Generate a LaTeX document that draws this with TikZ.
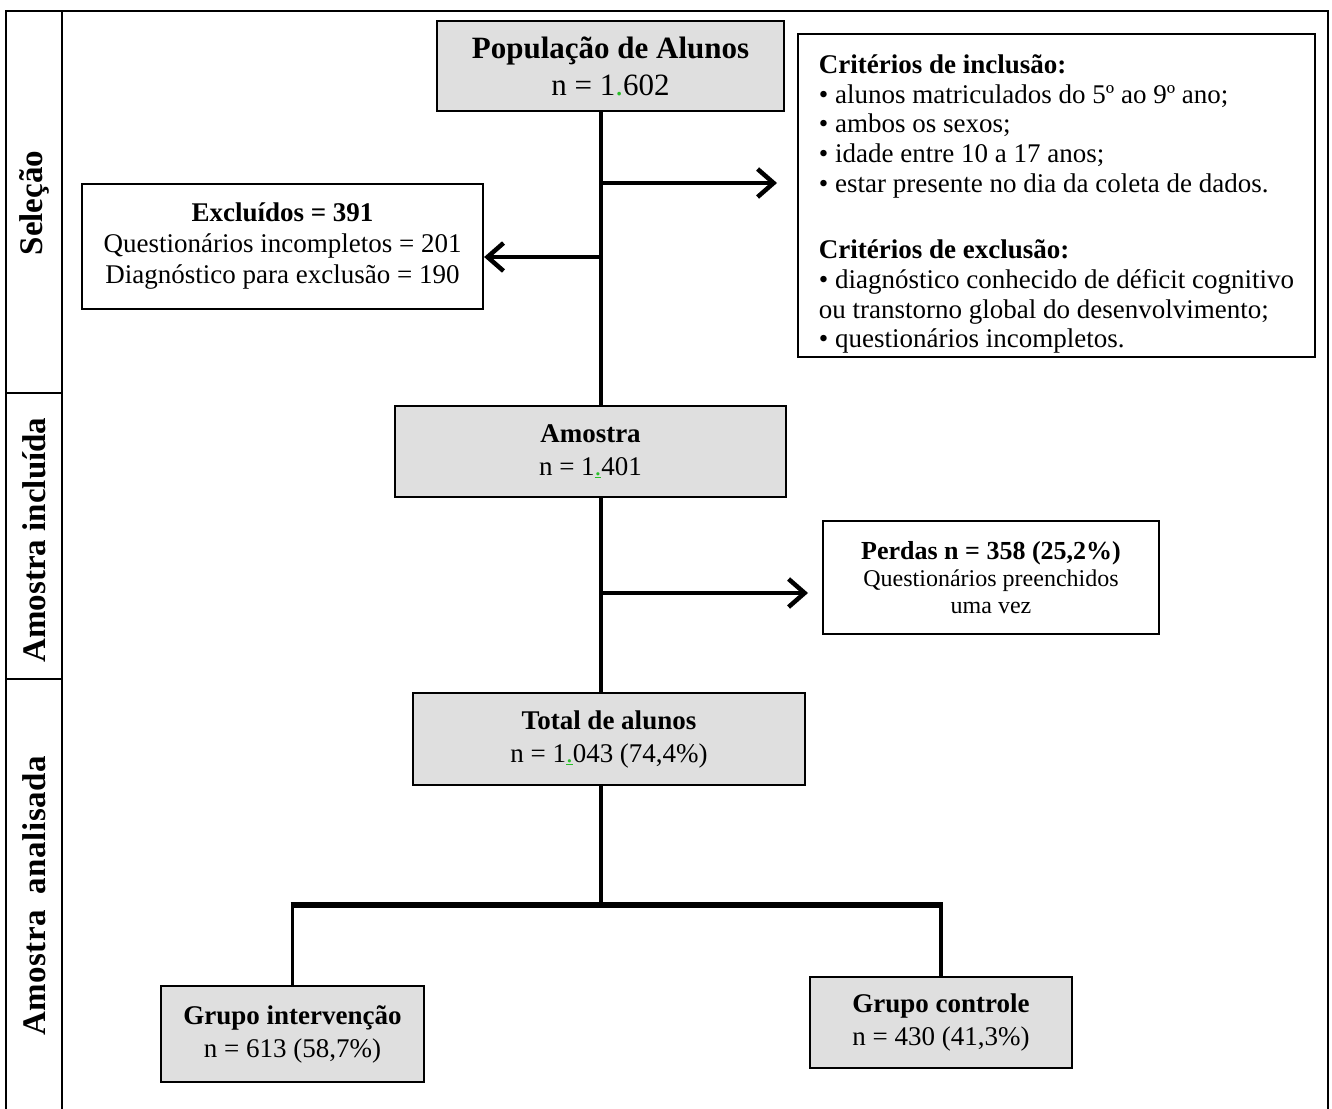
\documentclass[tikz,border=0pt]{standalone}
\usepackage{fontspec}
\setmainfont{Liberation Serif}
\usetikzlibrary{arrows.meta,calc}
\definecolor{boxgray}{RGB}{223,223,223}
\definecolor{wordgreen}{RGB}{40,190,40}
\newcommand\gdot{\textcolor{wordgreen}{.}}
\newcommand\gudot{\textcolor{wordgreen}{\underline{.}}}
\begin{document}
\begin{tikzpicture}[x=1pt,y=-1pt,
  frame/.style={line width=2.8pt},
  graybox/.style={draw, line width=2.2pt, fill=boxgray, align=center, inner sep=0pt, font=\fontsize{27}{33}\selectfont},
  whitebox/.style={draw, line width=2.2pt, fill=white, inner sep=0pt},
  trunk/.style={line width=4.5pt},
  arr/.style={line width=4.5pt,-{Straight Barb[length=16pt,width=28pt]}},
  sidelabel/.style={rotate=90, font=\fontsize{33}{36}\selectfont\bfseries}
]
\useasboundingbox (0,0) rectangle (1332,1108);

% frame
\draw[frame] (6,1112) -- (6,11) -- (1328,11) -- (1328,1112);
\draw[frame] (62,11) -- (62,1112);
\draw[frame] (6,393) -- (62,393);
\draw[frame] (6,679) -- (62,679);

% side labels
\node[sidelabel] (lsel) at (34,203) {Seleção};
\node[sidelabel] (linc) at (34,540) {Amostra incluída};
\node[sidelabel] (lana) at (34,896) {A\kern.5pt m\kern.5pt o\kern.5pt s\kern.5pt t\kern.5pt r\kern.5pt a\hspace{16pt}a\kern.5pt n\kern.5pt a\kern.5pt l\kern.5pt i\kern.5pt s\kern.5pt a\kern.5pt d\kern.5pt a};

% boxes
\node[graybox, minimum width=347pt, minimum height=90pt, font=\fontsize{31}{37}\selectfont] (pop) at (610.5,66)
  {\textbf{População de Alunos}\\n = 1\gdot602};

\node[whitebox, minimum width=517pt, minimum height=323pt, align=left,
  font=\fontsize{27}{29.7}\selectfont] (crit) at (1056.5,195.5)
  {\rule{0pt}{36pt}\textbf{Critérios de inclusão:}\\
   • alunos matriculados do 5º ao 9º ano;\\
   • ambos os sexos;\\
   • idade entre 10 a 17 anos;\\
   • estar presente no dia da coleta de dados.\\[37pt]
   \textbf{Critérios de exclusão:}\\
   • diagnóstico conhecido de déficit cognitivo\\
   ou transtorno global do desenvolvimento;\\
   • questionários incompletos.};

\node[whitebox, minimum width=401pt, minimum height=125pt, align=center,
  font=\fontsize{27}{31}\selectfont] (excl) at (282.5,246.5)
  {\textbf{Excluídos = 391}\\Questionários incompletos = 201\\Diagnóstico para exclusão = 190};

\node[graybox, minimum width=391pt, minimum height=91pt] (amo) at (590.5,451.5)
  {\textbf{Amostra}\\n = 1\gudot401};

\node[whitebox, minimum width=336pt, minimum height=113pt, align=center,
  font=\fontsize{24}{27}\selectfont] (perdas) at (991,577.5)
  {{\fontsize{26}{27}\selectfont\textbf{Perdas n = 358 (25,2\%)}}\\Questionários preenchidos\\uma vez};

\node[graybox, minimum width=392pt, minimum height=92pt] (total) at (609,739)
  {\textbf{Total de alunos}\\n = 1\gudot043 (74,4\%)};

\node[graybox, minimum width=263pt, minimum height=96pt] (gint) at (292.5,1034)
  {\textbf{Grupo intervenção}\\n = 613 (58,7\%)};

\node[graybox, minimum width=262pt, minimum height=91pt] (gctl) at (941,1022.5)
  {\textbf{Grupo controle}\\n = 430 (41,3\%)};

% connectors
\coordinate (tx) at (601,0);
\draw[trunk] (pop.south -| tx) -- (amo.north -| tx);
\coordinate (a1) at (777,183);
\draw[arr] (a1 -| tx) -- (a1);
\coordinate (b1) at (601,257);
\draw[arr] (b1) -- (b1 -| excl.east);
\draw[trunk] (amo.south -| tx) -- (total.north -| tx);
\coordinate (c1) at (808,593);
\draw[arr] (c1 -| tx) -- (c1);
\coordinate (bar) at (601,905);
\draw[trunk] (total.south -| tx) -- (bar);
\draw[line width=5.5pt, shorten <=-1.8pt, shorten >=-1.8pt] (gint.north |- bar) -- (gctl.north |- bar);
\draw[line width=3.5pt] (gint.north |- bar) -- (gint.north);
\draw[line width=3.5pt] (gctl.north |- bar) -- (gctl.north);
\end{tikzpicture}
\end{document}
